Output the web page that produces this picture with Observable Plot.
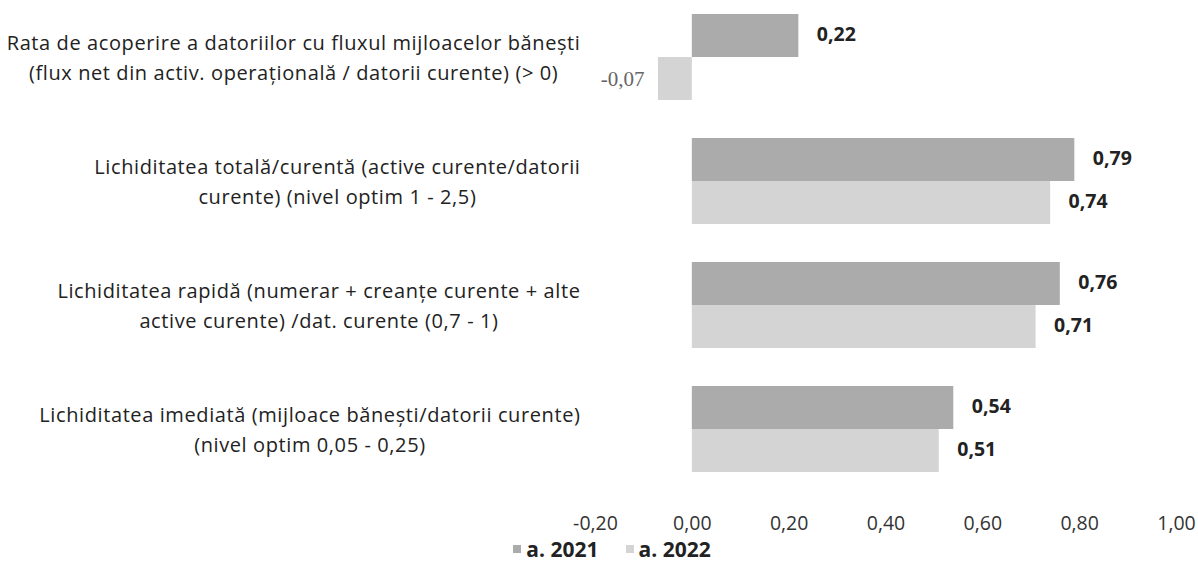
<!DOCTYPE html>
<html>
<head>
<meta charset="utf-8">
<script src="https://cdn.jsdelivr.net/npm/d3@7"></script>
<script src="https://cdn.jsdelivr.net/npm/@observablehq/plot@0.6"></script>
<style>
  body { margin: 0; background: #fff; font-family: "Open Sans", Lato, sans-serif; }
  #legend { display: flex; justify-content: center; align-items: center; height: 28px; font-size: 21px; font-weight: bold; color: #222; gap: 27px; padding-left: 26px; }
  #legend span.sw { display: inline-block; width: 8px; height: 8px; margin-right: 5px; vertical-align: middle; position: relative; top: -2px; }
</style>
</head>
<body>
<div id="chart"></div>
<div id="legend"></div>
<script>
const categories = [
  "Rata de acoperire a datoriilor cu fluxul mijloacelor bănești\n(flux net din activ. operațională / datorii curente) (> 0)",
  "Lichiditatea totală/curentă (active curente/datorii\ncurente) (nivel optim 1 - 2,5)",
  "Lichiditatea rapidă (numerar + creanțe curente + alte\nactive curente) /dat. curente (0,7 - 1)",
  "Lichiditatea imediată (mijloace bănești/datorii curente)\n(nivel optim 0,05 - 0,25)"
];
const years = ["a. 2021", "a. 2022"];
const values2021 = [0.22, 0.79, 0.76, 0.54];
const values2022 = [-0.07, 0.74, 0.71, 0.51];
const xTicks = [-0.2, 0, 0.2, 0.4, 0.6, 0.8, 1.0];
const colors = ["#ababab", "#d4d4d4"];

const data = [];
categories.forEach((c, i) => {
  data.push({category: c, year: years[0], value: values2021[i]});
  data.push({category: c, year: years[1], value: values2022[i]});
});
const fmt = v => v.toFixed(2).replace(".", ",");

const plot = Plot.plot({
  width: 1198,
  height: 535,
  marginLeft: 595,
  marginRight: 22,
  marginTop: 12,
  marginBottom: 61,
  style: {fontFamily: "'Open Sans', Lato, sans-serif", fontSize: "19px", color: "#222", background: "#fff"},
  x: {domain: [-0.2, 1.0], axis: null},
  y: {domain: years, padding: 0, axis: null},
  fy: {domain: categories, padding: 0.296, label: null},
  color: {domain: years, range: colors},
  marks: [
    Plot.axisFy({anchor: "left", tickSize: 0, tickPadding: 15, fontSize: 20, label: null, lineHeight: 1.5, fill: "#222", dy: -2}),
    Plot.barX(data, {x: "value", y: "year", fy: "category", fill: "year"}),
    Plot.text(data.filter(d => d.value >= 0), {x: "value", y: "year", fy: "category", text: d => fmt(d.value), textAnchor: "start", dx: 18, dy: -1, fontWeight: "bold", fontSize: 19.5, fill: "#222"}),
    Plot.text(data.filter(d => d.value < 0), {x: "value", y: "year", fy: "category", text: d => fmt(d.value), textAnchor: "end", dx: -14, fontSize: 21, fill: "#666", fontFamily: "'Liberation Serif', serif"}),
    Plot.axisX({ticks: xTicks, tickFormat: fmt, tickSize: 0, tickPadding: 44, fontSize: 19.5, label: null, facetAnchor: "bottom", fill: "#333"})
  ]
});
document.getElementById("chart").appendChild(plot);

// category labels: slight letter spacing, lines centred within each label block
plot.querySelectorAll('g[aria-label="fy-axis tick label"] text').forEach(t => {
  t.setAttribute("letter-spacing", "0.6");
  const spans = t.querySelectorAll("tspan");
  if (!spans.length) return;
  let w = 0;
  spans.forEach(s => { w = Math.max(w, s.getComputedTextLength()); });
  t.setAttribute("text-anchor", "middle");
  spans.forEach(s => s.setAttribute("x", -w / 2));
});

const legend = document.getElementById("legend");
years.forEach((y, i) => {
  const item = document.createElement("div");
  const sw = document.createElement("span");
  sw.className = "sw";
  sw.style.background = colors[i];
  item.appendChild(sw);
  item.appendChild(document.createTextNode(y));
  legend.appendChild(item);
});
</script>
</body>
</html>
